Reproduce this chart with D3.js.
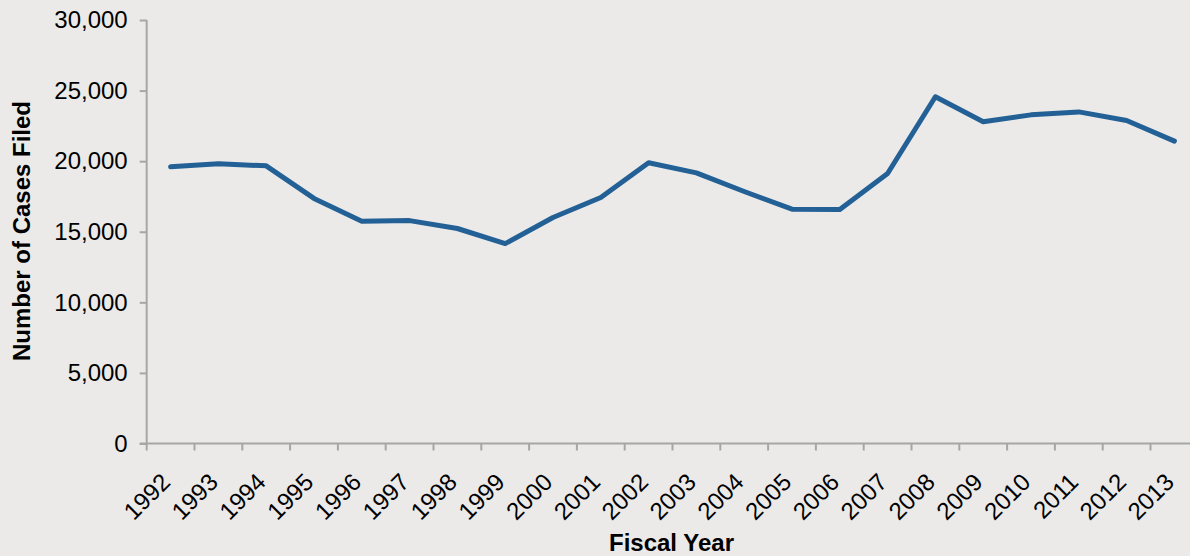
<!DOCTYPE html>
<html>
<head>
<meta charset="utf-8">
<script src="https://cdn.jsdelivr.net/npm/d3@7"></script>
<style>
  html, body { margin: 0; padding: 0; background: #EBEAE8; }
  svg { display: block; }
  text { font-family: "Liberation Sans", Arial, sans-serif; fill: #000; }
</style>
</head>
<body>
<svg id="chart" width="1190" height="556"></svg>
<script>
const years = ["1992","1993","1994","1995","1996","1997","1998","1999","2000","2001","2002","2003","2004","2005","2006","2007","2008","2009","2010","2011","2012","2013"];
const casesFiled = [19600, 19810, 19670, 17360, 15750, 15790, 15230, 14160, 16010, 17430, 19890, 19170, 17850, 16600, 16570, 19130, 24560, 22790, 23280, 23490, 22880, 21420];
const yTicks = [0, 5000, 10000, 15000, 20000, 25000, 30000];
const yTitle = "Number of Cases Filed";
const xTitle = "Fiscal Year";

(function () {
const svg = d3.select("#chart");
const W = 1190, H = 556;
svg.append("rect").attr("width", W).attr("height", H).attr("fill", "#EBEAE8");

const mLeft = 146.7, mRight = 1198.3, mTop = 20, mBottom = 443.5;
const axisColor = "#A6A6A6";

const x = d3.scaleBand().domain(years).range([mLeft, mRight]).padding(0);
const y = d3.scaleLinear().domain([0, 30000]).range([mBottom, mTop]);

// Y axis
const yAxis = d3.axisLeft(y).tickValues(yTicks).tickSize(7).tickPadding(12)
  .tickFormat(d3.format(","));
const gy = svg.append("g").attr("transform", `translate(${mLeft},0)`).call(yAxis);
gy.select(".domain").attr("stroke", axisColor).attr("stroke-width", 2).attr("d", `M0,${mTop}V${mBottom}`);
gy.selectAll(".tick line").attr("stroke", axisColor).attr("stroke-width", 2);
gy.selectAll(".tick text").attr("font-size", 24).attr("font-family", "Liberation Sans, Arial, sans-serif").attr("fill", "#000");

// X axis line
svg.append("line").attr("x1", mLeft - 7).attr("x2", W).attr("y1", mBottom).attr("y2", mBottom)
  .attr("stroke", axisColor).attr("stroke-width", 2);
// X tick marks at category boundaries
const boundaries = years.map(d => x(d)).concat([x(years[years.length - 1]) + x.bandwidth()]);
svg.append("g").selectAll("line").data(boundaries).join("line")
  .attr("x1", d => d).attr("x2", d => d)
  .attr("y1", mBottom).attr("y2", mBottom + 7)
  .attr("stroke", axisColor).attr("stroke-width", 2);
// X tick labels
svg.append("g").selectAll("text").data(years).join("text")
  .attr("transform", d => `translate(${x(d) + x.bandwidth() / 2 + 1},${mBottom + 40}) rotate(-45)`)
  .attr("text-anchor", "end")
  .attr("font-size", 24)
  .text(d => d);

// Line
const line = d3.line()
  .x((d, i) => x(years[i]) + x.bandwidth() / 2)
  .y(d => y(d));
svg.append("path").datum(casesFiled)
  .attr("d", line)
  .attr("fill", "none")
  .attr("stroke", "#236096")
  .attr("stroke-width", 5)
  .attr("stroke-linejoin", "round")
  .attr("stroke-linecap", "round");

// Titles
svg.append("text")
  .attr("transform", `translate(30,231) rotate(-90)`)
  .attr("text-anchor", "middle")
  .attr("font-size", 24)
  .attr("font-weight", "bold")
  .text(yTitle);

svg.append("text")
  .attr("x", (mLeft + mRight) / 2 - 1)
  .attr("y", 551)
  .attr("text-anchor", "middle")
  .attr("font-size", 24)
  .attr("font-weight", "bold")
  .text(xTitle);
})();
</script>
</body>
</html>
